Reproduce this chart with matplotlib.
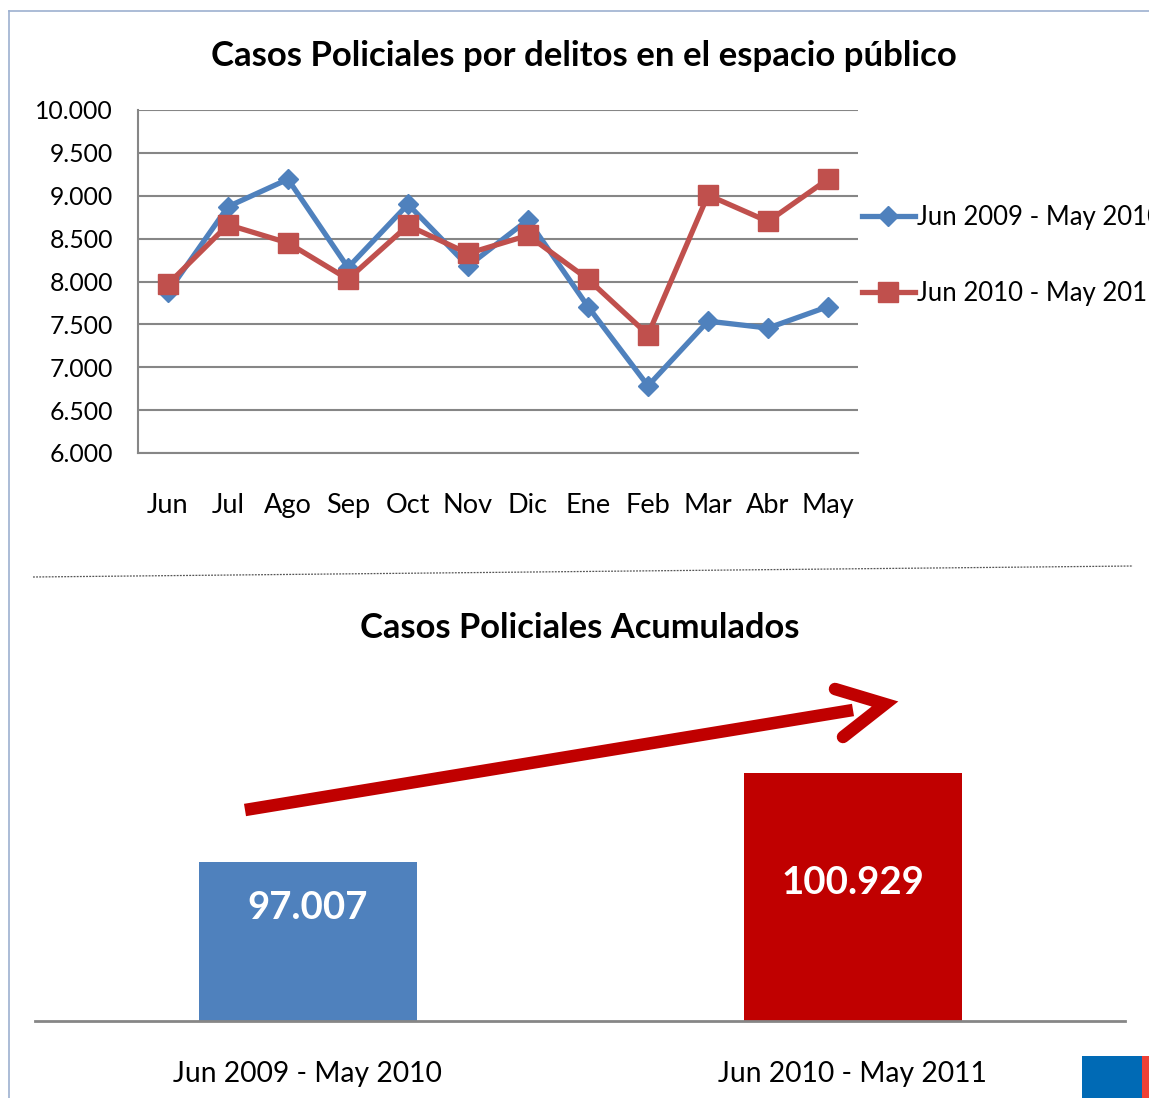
import matplotlib as mpl
mpl.use('Agg')
import matplotlib.pyplot as plt
from matplotlib.lines import Line2D
from matplotlib.patches import Rectangle

plt.rcParams['font.family'] = ['Lato', 'DejaVu Sans']

# data
months = ['Jun', 'Jul', 'Ago', 'Sep', 'Oct', 'Nov', 'Dic', 'Ene', 'Feb', 'Mar', 'Abr', 'May']
casos_0910 = [7876, 8873, 9193, 8162, 8900, 8180, 8719, 7707, 6783, 7538, 7457, 7707]
casos_1011 = [7969, 8662, 8450, 8027, 8654, 8327, 8538, 8027, 7380, 9008, 8700, 9193]
series_names = ['Jun 2009 - May 2010', 'Jun 2010 - May 2011']
totales = [97007, 100929]
yticks_top = [6000, 6500, 7000, 7500, 8000, 8500, 9000, 9500, 10000]

W, H = 1149, 1098
fig = plt.figure(figsize=(W / 100, H / 100), dpi=100)
fig.patch.set_facecolor('white')


def fx(px):
    return px / W


def fy(py):
    return 1 - py / H


def fmt_miles(v):
    return f'{v:,.0f}'.replace(',', '.')


# frame lines of the slide
fig.add_artist(Line2D([fx(9), 1.0], [fy(11), fy(11)], color='#9DB0D0', lw=1.2))
fig.add_artist(Line2D([fx(9), fx(9)], [fy(11), 0.0], color='#9DB0D0', lw=1.2))

# ---- top chart: monthly cases
ax = fig.add_axes([fx(138), fy(453), fx(858) - fx(138), fy(110) - fy(453)])
x = range(len(months))
ax.plot(x, casos_0910, color='#4F81BD', lw=3.8, marker='D', ms=10,
        label=series_names[0], zorder=3)
ax.plot(x, casos_1011, color='#C0504D', lw=3.8, marker='s', ms=14,
        label=series_names[1], zorder=4)
ax.set_xlim(-0.5, len(months) - 0.5)
ax.set_ylim(6000, 10000)
ax.set_yticks(yticks_top)
ax.set_yticklabels([fmt_miles(v) for v in yticks_top])
ax.set_xticks(list(x))
ax.set_xticklabels(months)
ax.grid(axis='y', color='#868686', lw=1.5)
ax.set_axisbelow(True)
for s in ['top', 'right']:
    ax.spines[s].set_visible(False)
for s in ['left', 'bottom']:
    ax.spines[s].set_color('#868686')
    ax.spines[s].set_linewidth(1.5)
ax.tick_params(axis='y', length=0, pad=18, labelsize=17.8, labelcolor='black')
ax.tick_params(axis='x', length=0, pad=29, labelsize=19.5, labelcolor='black')

ax.legend(loc='upper left', bbox_to_anchor=(fx(862), fy(205)),
          bbox_transform=fig.transFigure, frameon=False, fontsize=18.5,
          handlelength=2.05, handletextpad=0.1, labelspacing=2.0,
          borderpad=0, borderaxespad=0)

fig.text(fx(584), fy(56), 'Casos Policiales por delitos en el espacio público',
         ha='center', va='center', fontsize=25, fontweight='bold')

# dotted separator
fig.add_artist(Line2D([fx(33), fx(1133)], [fy(577), fy(566)], color='#555555',
                      lw=0.9, ls=(0, (1.5, 1))))

# ---- bottom chart: totals
bx = fig.add_axes([fx(35), fy(1021), fx(1125) - fx(35), fy(703) - fy(1021)])
bar_colors = ['#4F81BD', '#C00000']
bx.bar(range(len(totales)), totales, width=0.4, color=bar_colors, zorder=2)
bx.set_xlim(-0.5, len(totales) - 0.5)
bx.set_ylim(90000, 104000)
bx.set_yticks([])
bx.set_xticks(range(len(totales)))
bx.set_xticklabels(series_names)
bx.tick_params(axis='x', length=0, pad=29, labelsize=20.3)
for s in ['top', 'right', 'left']:
    bx.spines[s].set_visible(False)
bx.spines['bottom'].set_color('#868686')
bx.spines['bottom'].set_linewidth(2)

label_offsets = [-46, -110]  # px below bar top
for i, v in enumerate(totales):
    bx.annotate(fmt_miles(v), (i, v), xytext=(0, label_offsets[i] * 0.72),
                textcoords='offset points', ha='center', va='center',
                color='white', fontsize=27.6, fontweight='bold')

fig.text(fx(580), fy(628), 'Casos Policiales Acumulados', ha='center',
         va='center', fontsize=24.8, fontweight='bold')

# growth arrow
arrow_red = '#C00000'
fig.add_artist(Line2D([fx(245), fx(853)], [fy(810), fy(710)], color=arrow_red,
                      lw=9, solid_capstyle='butt'))
fig.add_artist(Line2D([fx(835), fx(885), fx(843)], [fy(689), fy(704), fy(737)],
                      color=arrow_red, lw=9, solid_capstyle='round',
                      solid_joinstyle='miter'))

# logo block, bottom right
fig.add_artist(Rectangle((fx(1082), 0), fx(1142) - fx(1082), fy(1056),
                         transform=fig.transFigure, color='#006AB5', lw=0))
fig.add_artist(Rectangle((fx(1142), 0), 1 - fx(1142), fy(1056),
                         transform=fig.transFigure, color='#EF4135', lw=0))

fig.savefig('out.png', dpi=100)
